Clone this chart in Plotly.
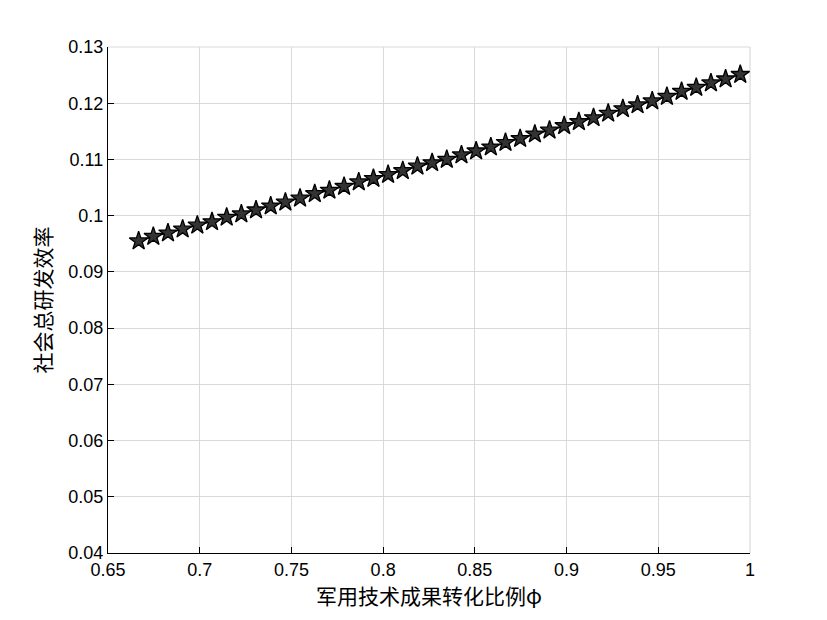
import plotly.graph_objects as go

phi = [0.6667, 0.6747, 0.6827, 0.6907, 0.6987, 0.7067, 0.7147, 0.7227, 0.7307, 0.7387,
       0.7467, 0.7547, 0.7627, 0.7707, 0.7787, 0.7867, 0.7947, 0.8027, 0.8107, 0.8187,
       0.8267, 0.8347, 0.8427, 0.8507, 0.8587, 0.8667, 0.8747, 0.8827, 0.8907, 0.8987,
       0.9067, 0.9147, 0.9227, 0.9307, 0.9387, 0.9467, 0.9547, 0.9627, 0.9707, 0.9787,
       0.9867, 0.9947]
efficiency = [0.0955, 0.0963, 0.0969, 0.0976, 0.0983, 0.0989, 0.0997, 0.1003, 0.1010, 0.1017,
              0.1024, 0.1031, 0.1039, 0.1045, 0.1052, 0.1060, 0.1066, 0.1073, 0.1080, 0.1088,
              0.1094, 0.1100, 0.1108, 0.1115, 0.1122, 0.1130, 0.1137, 0.1145, 0.1152, 0.1160,
              0.1167, 0.1174, 0.1182, 0.1190, 0.1197, 0.1204, 0.1212, 0.1221, 0.1228, 0.1236,
              0.1243, 0.1251]

x_ticks = [0.65, 0.7, 0.75, 0.8, 0.85, 0.9, 0.95, 1.0]
x_labels = ["0.65", "0.7", "0.75", "0.8", "0.85", "0.9", "0.95", "1"]
y_ticks = [0.04, 0.05, 0.06, 0.07, 0.08, 0.09, 0.10, 0.11, 0.12, 0.13]
y_labels = ["0.04", "0.05", "0.06", "0.07", "0.08", "0.09", "0.1", "0.11", "0.12", "0.13"]

x_title = "军用技术成果转化比例φ"
y_title = "社会总研发效率"

fig = go.Figure()
fig.add_trace(go.Scatter(
    x=phi, y=efficiency, mode="lines+markers",
    line=dict(color="black", width=1.5),
    marker=dict(symbol="star", size=14, color="#333333",
                line=dict(color="black", width=1.3)),
    showlegend=False,
))

grid_color = "#d9d9d9"
tick_font = dict(family="Liberation Sans, Arial, sans-serif", size=18, color="black")
title_font = dict(family="Noto Sans CJK SC, sans-serif", size=21, color="black")

fig.update_layout(
    width=827, height=620,
    margin=dict(l=100, r=85, t=39, b=75),
    paper_bgcolor="white", plot_bgcolor="white",
    xaxis=dict(
        range=[0.65, 1.0], tickvals=x_ticks, ticktext=x_labels,
        showgrid=True, gridcolor=grid_color, gridwidth=1,
        showline=True, linecolor="black", linewidth=1.2,
        ticks="inside", ticklen=6, tickcolor="black", tickwidth=1,
        tickfont=tick_font, zeroline=False,
        title=dict(text=x_title, font=title_font, standoff=10),
    ),
    yaxis=dict(
        range=[0.04, 0.13], tickvals=y_ticks, ticktext=y_labels,
        showgrid=True, gridcolor=grid_color, gridwidth=1,
        showline=True, linecolor="black", linewidth=1.2,
        ticks="inside", ticklen=6, tickcolor="black", tickwidth=1,
        tickfont=tick_font, zeroline=False,
        title=dict(text=y_title, font=title_font, standoff=10),
    ),
)

# grey box edges on top and right
fig.add_shape(type="line", xref="paper", yref="paper", x0=0, x1=1, y0=1, y1=1,
              line=dict(color=grid_color, width=1.2), layer="below")
fig.add_shape(type="line", xref="paper", yref="paper", x0=1, x1=1, y0=0, y1=1,
              line=dict(color=grid_color, width=1.2), layer="below")

fig.write_html("out.html")
